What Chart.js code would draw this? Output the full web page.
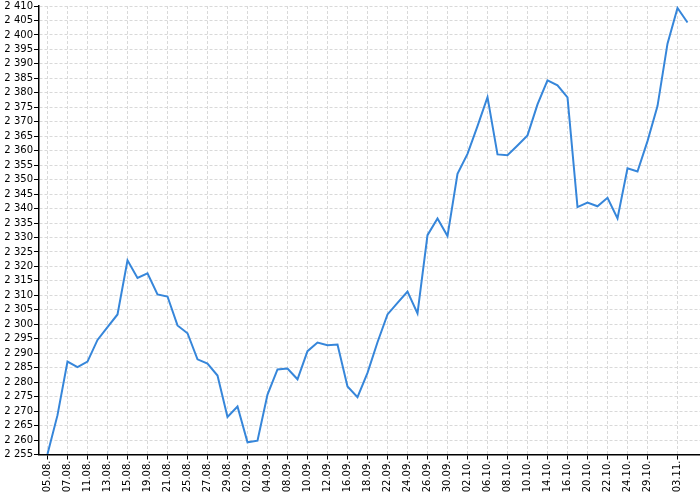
<!DOCTYPE html>
<html>
<head>
<meta charset="utf-8">
<script src="https://cdn.jsdelivr.net/npm/chart.js@4.4.1/dist/chart.umd.min.js"></script>
<style>
  html, body { margin: 0; padding: 0; background: #fff; }
  #wrap { width: 700px; height: 500px; position: relative; }
</style>
</head>
<body>
<div id="wrap"><canvas id="main-chart"></canvas></div>
<script>
// trading days, one per point
const dates = [
    "05.08.", "06.08.", "07.08.", "08.08.", "11.08.", "12.08.", "13.08.", "14.08.", "15.08.", "18.08.",
    "19.08.", "20.08.", "21.08.", "22.08.", "25.08.", "26.08.", "27.08.", "28.08.", "29.08.", "01.09.",
    "02.09.", "03.09.", "04.09.", "05.09.", "08.09.", "09.09.", "10.09.", "11.09.", "12.09.", "15.09.",
    "16.09.", "17.09.", "18.09.", "19.09.", "22.09.", "23.09.", "24.09.", "25.09.", "26.09.", "29.09.",
    "30.09.", "01.10.", "02.10.", "03.10.", "06.10.", "07.10.", "08.10.", "09.10.", "10.10.", "13.10.",
    "14.10.", "15.10.", "16.10.", "17.10.", "20.10.", "21.10.", "22.10.", "23.10.", "24.10.", "28.10.",
    "29.10.", "30.10.", "31.10.", "03.11.", "04.11."
];

const values = [
    2255.2, 2268.6, 2287.1, 2285.2, 2287.1, 2294.6, 2299.0, 2303.4, 2322.1, 2316.0,
    2317.6, 2310.3, 2309.6, 2299.6, 2296.9, 2287.9, 2286.4, 2282.3, 2268.0, 2271.6,
    2259.2, 2259.8, 2275.7, 2284.4, 2284.7, 2281.0, 2290.7, 2293.7, 2292.8, 2293.0,
    2278.5, 2274.8, 2283.2, 2293.8, 2303.4, 2307.4, 2311.3, 2303.8, 2330.8, 2336.6,
    2330.5, 2352.0, 2358.9, 2368.5, 2378.5, 2358.7, 2358.4, 2361.8, 2365.3, 2376.0,
    2384.3, 2382.6, 2378.4, 2340.5, 2342.1, 2340.8, 2343.7, 2336.6, 2353.9, 2352.8,
    2363.3, 2375.4, 2397.0, 2409.3, 2404.3
];

// which dates get a label on the x axis
const labelled_idx = [
    0, 2, 4, 6, 8, 10, 12, 14, 16, 18, 20, 22, 24, 26, 28, 30,
    32, 34, 36, 38, 40, 42, 44, 46, 48, 50, 52, 54, 56, 58, 60, 63
];

const y_min = 2255;
const y_max = 2410;
const y_step = 5;

function fmt_thousands(v)
{
    return Math.round(v).toString().replace(/\B(?=(\d{3})+(?!\d))/g, " ");
}

const points = values.map((v, i) => ({x: i, y: v}));

const config = {
    type: 'line',
    data: {
        datasets: [
            {
                data: points,
                borderColor: "#3686da",
                borderWidth: 2,
                pointRadius: 0,
                tension: 0,
                fill: false
            }
        ]
    },
    options: {
        responsive: true,
        maintainAspectRatio: false,
        animation: false,
        layout: {
            padding: {top: 5, right: 0, left: 0, bottom: 0}
        },
        plugins: {
            legend: { display: false },
            tooltip: { enabled: false }
        },
        scales: {
            x: {
                type: 'linear',
                min: -0.85,
                max: 65.25,
                afterBuildTicks: function(scale) {
                    scale.ticks = labelled_idx.map(v => ({value: v}));
                },
                afterFit: function(scale) {
                    scale.height = 45.5;
                },
                ticks: {
                    autoSkip: false,
                    maxRotation: 90,
                    minRotation: 90,
                    padding: 1,
                    color: "#000",
                    font: { family: "DejaVu Sans", size: 10 },
                    callback: function(v) { return dates[v]; }
                },
                grid: {
                    color: "#d9d9d9",
                    tickColor: "#000",
                    tickLength: 5,
                    tickBorderDash: []
                },
                border: {
                    display: true,
                    color: "#000",
                    width: 1.5,
                    dash: [3, 2]
                }
            },
            y: {
                min: y_min,
                max: y_max,
                afterFit: function(scale) {
                    scale.width = 39;
                },
                ticks: {
                    stepSize: y_step,
                    autoSkip: false,
                    padding: 1,
                    color: "#000",
                    font: { family: "DejaVu Sans", size: 10, lineHeight: 1 },
                    callback: function(v) { return fmt_thousands(v); }
                },
                grid: {
                    color: "#d9d9d9",
                    tickColor: "#000",
                    tickLength: 5,
                    tickBorderDash: []
                },
                border: {
                    display: true,
                    color: "#000",
                    width: 1.5,
                    dash: [3, 2]
                }
            }
        }
    }
};

let myChart = new Chart(document.getElementById("main-chart").getContext('2d'), config);
</script>
</body>
</html>
